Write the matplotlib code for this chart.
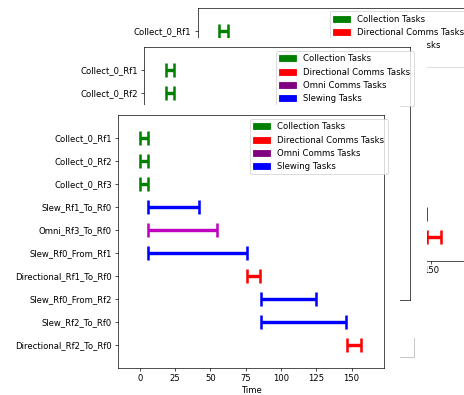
import matplotlib
matplotlib.use("Agg")
import matplotlib.pyplot as plt
from matplotlib.patches import Patch, Rectangle
from matplotlib.lines import Line2D

# task schedule: one row per task, start/end time and task kind
tasks = ['Collect_0_Rf1', 'Collect_0_Rf2', 'Collect_0_Rf3', 'Slew_Rf1_To_Rf0',
         'Omni_Rf3_To_Rf0', 'Slew_Rf0_From_Rf1', 'Directional_Rf1_To_Rf0',
         'Slew_Rf0_From_Rf2', 'Slew_Rf2_To_Rf0', 'Directional_Rf2_To_Rf0']
starts = [0, 0, 0, 6, 6, 6, 76, 86, 86, 147]
ends = [6, 6, 6, 42, 55, 76, 85, 125, 146, 157]
kinds = ['collect', 'collect', 'collect', 'slew', 'omni', 'slew',
         'directional', 'slew', 'slew', 'directional']
time_ticks = [0, 25, 50, 75, 100, 125, 150]

bar_colors = {'collect': 'green', 'directional': 'red', 'omni': 'm', 'slew': 'blue'}
legend_labels = ['Collection Tasks', 'Directional Comms Tasks', 'Omni Comms Tasks', 'Slewing Tasks']
legend_colors = ['green', 'red', 'purple', 'blue']

DPI = 61
W, H = 464, 395
fig = plt.figure(figsize=(W / DPI, H / DPI), dpi=DPI)


def px_rect(x0, y0, x1, y1):
    # pixel box (top-left origin) -> figure fraction [left, bottom, w, h]
    return [x0 / W, 1 - y1 / H, (x1 - x0) / W, (y1 - y0) / H]


def draw_schedule(ax, n_rows_shown=None, xticks_shown=None, show_xlabel=True):
    for i in range(len(tasks)):
        mid = (starts[i] + ends[i]) / 2
        half = (ends[i] - starts[i]) / 2
        ax.errorbar(mid, i, xerr=half, fmt='none', ecolor=bar_colors[kinds[i]],
                    elinewidth=4, capsize=8, capthick=3)
    ax.set_yticks(range(len(tasks)))
    ax.set_yticklabels(tasks)
    ax.set_ylim(10, -1)
    ax.set_xlim(-15.5, 173)
    ax.set_xticks(time_ticks)
    if show_xlabel:
        ax.set_xlabel('Time')
    # labels that end up under the window in front are left out
    if n_rows_shown is not None:
        for lab in ax.get_yticklabels()[n_rows_shown:]:
            lab.set_visible(False)
    if xticks_shown is not None:
        for t, lab in zip(time_ticks, ax.get_xticklabels()):
            lab.set_visible(t in xticks_shown)
    handles = [Patch(color=c, label=l) for c, l in zip(legend_colors, legend_labels)]
    ax.legend(handles=handles, loc='upper left', bbox_to_anchor=(132 / 266, 1 - 4 / 253),
              borderaxespad=0)


# three copies of the same chart, each in its own stacked window
ax_back = fig.add_axes(px_rect(197.5, 7.5, 464, 260.5), zorder=1)
draw_schedule(ax_back, n_rows_shown=1, xticks_shown=[150], show_xlabel=False)

fig.add_artist(Rectangle((0, 0), 426.5 / W, 1 - 37.5 / H, transform=fig.transFigure,
                         facecolor='white', edgecolor='none', zorder=2))
fig.add_artist(Line2D([400 / W, 414 / W, 414 / W], [1 - 357 / H, 1 - 357 / H, 1 - 338 / H],
                      transform=fig.transFigure, color='#c8c8c8', lw=1.2, zorder=2.5))
ax_mid = fig.add_axes(px_rect(143.7, 47, 410.2, 300), zorder=3)
draw_schedule(ax_mid, n_rows_shown=2, xticks_shown=[], show_xlabel=False)

fig.add_artist(Rectangle((0, 0), 400 / W, 1 - 104.5 / H, transform=fig.transFigure,
                         facecolor='white', edgecolor='none', zorder=4))
ax_front = fig.add_axes(px_rect(118, 115, 384, 368), zorder=5)
draw_schedule(ax_front)

fig.savefig('out.png', dpi=DPI)
